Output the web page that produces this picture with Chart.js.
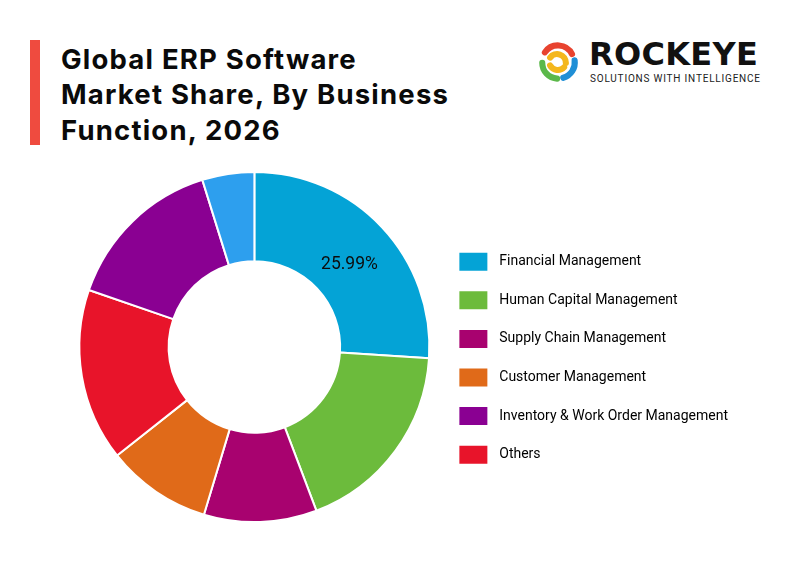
<!DOCTYPE html>
<html>
<head>
<meta charset="utf-8">
<script src="https://cdn.jsdelivr.net/npm/chart.js@4"></script>
<style>
  body { margin: 0; width: 802px; height: 571px; background: #fff; position: relative; overflow: hidden; font-family: Inter, "Noto Sans", sans-serif; }
  .bar { position: absolute; left: 30px; top: 40px; width: 10px; height: 105px; background: #ef4b3f; }
  .title { position: absolute; left: 61px; top: 42px; font-family: Inter, sans-serif; font-weight: 700; font-size: 27.5px; line-height: 35.3px; color: #0a0a0a; letter-spacing: 1.2px; }
  .logo { position: absolute; left: 537px; top: 41px; }
  .brand { position: absolute; left: 589px; top: 35px; font-family: "DejaVu Sans", sans-serif; font-weight: 700; font-size: 32px; color: #111; letter-spacing: 0.3px; }
  .tag { position: absolute; left: 590px; top: 73px; font-family: Roboto, sans-serif; font-size: 10px; color: #222; letter-spacing: 0.8px; }
  #wrap { position: absolute; left: 70px; top: 171px; width: 668px; height: 352px; }
</style>
</head>
<body>
<div class="bar"></div>
<div class="title">Global ERP Software<br>Market Share, By Business<br>Function, 2026</div>
<svg class="logo" width="42" height="42" viewBox="0 0 48 48">
  <g fill="none" stroke-width="7" stroke-linecap="round">
    <path d="M9 13 A18 18 0 0 1 40 15" stroke="#e8432f"/>
    <path d="M43 22 A18 18 0 0 1 30 42" stroke="#1f8fd6"/>
    <path d="M23 43 A18 18 0 0 1 6 25" stroke="#5bb84a"/>
    <path d="M15 19 A10 10 0 0 1 33 25" stroke="#f4b71c"/>
    <path d="M31 30 A10 10 0 0 1 15 28" stroke="#f4b71c"/>
  </g>
</svg>
<div class="brand">ROCKEYE</div>
<div class="tag">SOLUTIONS WITH INTELLIGENCE</div>
<div id="wrap"><canvas id="myChart"></canvas></div>
<script>
const segments = ['Financial Management', 'Human Capital Management', 'Supply Chain Management',
  'Customer Management', 'Others', 'Inventory & Work Order Management', 'Other Functions'];
const shares = [25.99, 18.2, 10.4, 9.7, 15.9, 14.9, 4.8];
const colors = ['#04a3d6', '#6cbb3c', '#a8026f', '#e06a19', '#e8142a', '#8a0092', '#2d9fee'];
const legendOrder = [0, 1, 2, 3, 5, 4];
const shownLabel = 0;

const labelPlugin = {
  id: 'sliceLabel',
  afterDatasetsDraw(chart) {
    const ctx = chart.ctx;
    const arc = chart.getDatasetMeta(0).data[shownLabel];
    const p = arc.tooltipPosition();
    ctx.save();
    ctx.font = '17.5px Roboto, sans-serif';
    ctx.fillStyle = '#0d0d0d';
    ctx.textAlign = 'center';
    ctx.textBaseline = 'middle';
    ctx.fillText(shares[shownLabel].toFixed(2) + '%', p.x, p.y + 7);
    ctx.restore();
  }
};

const data = {
  labels: segments,
  datasets: [{
    data: shares,
    backgroundColor: colors,
    borderColor: '#fff',
    borderWidth: 2
  }]
};

const config = {
  type: 'doughnut',
  data: data,
  options: {
    responsive: true,
    maintainAspectRatio: false,
    animation: false,
    cutout: '49%',
    layout: { padding: 0 },
    plugins: {
      tooltip: { enabled: false },
      legend: {
        position: 'right',
        align: 'center',
        title: { display: true, text: '', padding: 4 },
        labels: {
          boxWidth: 28,
          boxHeight: 18,
          padding: 20.6,
          color: '#000',
          font: { family: 'Roboto', size: 14 },
          generateLabels(chart) {
            return legendOrder.map(i => ({
              text: ' \u200A' + segments[i],
              fillStyle: colors[i],
              strokeStyle: colors[i],
              fontColor: '#000',
              lineWidth: 0,
              hidden: false,
              index: i
            }));
          }
        }
      }
    }
  },
  plugins: [labelPlugin]
};

new Chart(document.getElementById('myChart'), config);
</script>
</body>
</html>
